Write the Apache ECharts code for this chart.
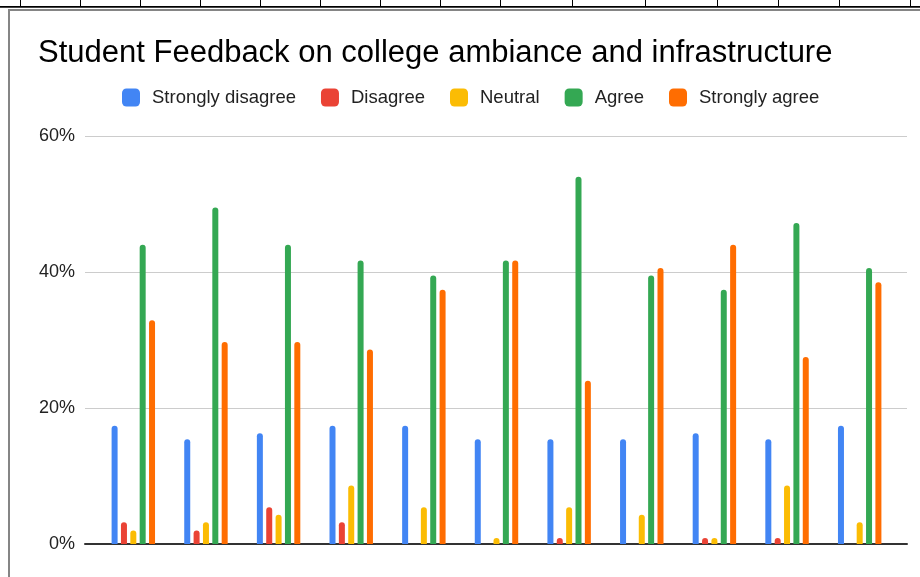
<!DOCTYPE html>
<html>
<head>
<meta charset="utf-8">
<script src="https://cdn.jsdelivr.net/npm/echarts@6/dist/echarts.min.js"></script>
<style>
  html, body { margin: 0; padding: 0; background: #fff; }
  #chart { width: 920px; height: 577px; }
  .sheetLine { position: absolute; left: 0; top: 6px; width: 920px; height: 1px; background: #000; border-bottom: 1px solid #444; }
  .colTick { position: absolute; top: 0; width: 1px; height: 6px; background: #000; }
  .frame { position: absolute; left: 8px; top: 9px; width: 912px; height: 568px; border-left: 2px solid #858585; border-top: 2px solid #858585; pointer-events: none; }
</style>
</head>
<body>
<div id="chart"></div>
<div class="sheetLine"></div>
<div class="frame"></div>
<script>
// spreadsheet column borders above the chart
var colBorders = [20, 80, 140, 200, 260, 320, 380, 440, 500, 572, 645, 717, 778, 839, 910];
colBorders.forEach(function (x) {
  var d = document.createElement('div');
  d.className = 'colTick';
  d.style.left = x + 'px';
  document.body.appendChild(d);
});

// data (percent of responses), x labels are not visible in the source
var categories = ['1', '2', '3', '4', '5', '6', '7', '8', '9', '10', '11'];
var stronglyDisagree = [17.4, 15.4, 16.3, 17.4, 17.4, 15.4, 15.4, 15.4, 16.3, 15.4, 17.4];
var disagree         = [3.2, 2.0, 5.4, 3.2, 0, 0, 0.9, 0, 0.9, 0.9, 0];
var neutral          = [2.0, 3.2, 4.3, 8.6, 5.4, 0.9, 5.4, 4.3, 0.9, 8.6, 3.2];
var agree            = [44.0, 49.5, 44.0, 41.7, 39.5, 41.7, 54.0, 39.5, 37.4, 47.2, 40.6];
var stronglyAgree    = [32.9, 29.7, 29.7, 28.6, 37.4, 41.7, 24.0, 40.6, 44.0, 27.5, 38.5];
var yTicks = [0, 20, 40, 60];

var font = 'Liberation Sans, Arial, sans-serif';
var colors = ['#4285F4', '#EA4335', '#FBBC04', '#34A853', '#FF6D01'];

function makeSeries(name, data) {
  return {
    name: name,
    type: 'bar',
    xAxisIndex: 1,
    yAxisIndex: 1,
    barWidth: 6,
    barGap: '56%',
    itemStyle: { borderRadius: [3, 3, 0, 0] },
    data: data
  };
}

var myChart = echarts.init(document.getElementById('chart'));
var option = {
  animation: false,
  color: colors,
  title: {
    text: 'Student Feedback on college ambiance and infrastructure',
    left: 38,
    top: 38,
    padding: 0,
    textStyle: { fontFamily: font, fontSize: 31, fontWeight: 'normal', color: '#000' }
  },
  legend: {
    left: 122,
    top: 88,
    padding: 0,
    itemWidth: 18,
    itemHeight: 18,
    itemGap: 25,
    icon: 'roundRect',
    textStyle: { fontFamily: font, fontSize: 18.5, color: '#222', padding: [0, 0, 0, 7] },
    data: ['Strongly disagree', 'Disagree', 'Neutral', 'Agree', 'Strongly agree']
  },
  grid: [
    { left: 85, right: 13, top: 136, bottom: 33 },
    { left: 97, right: 24, top: 136, bottom: 33 }
  ],
  xAxis: [
    {
      gridIndex: 0,
      type: 'category',
      data: [''],
      axisLine: { lineStyle: { color: '#333', width: 2 } },
      axisTick: { show: false },
      axisLabel: { show: false }
    },
    {
      gridIndex: 1,
      type: 'category',
      data: categories,
      axisLine: { show: false },
      axisTick: { show: false },
      axisLabel: { show: false }
    }
  ],
  yAxis: [
    {
      gridIndex: 0,
      type: 'value',
      min: yTicks[0],
      max: yTicks[yTicks.length - 1],
      interval: 20,
      axisLine: { show: false },
      axisTick: { show: false },
      axisLabel: { formatter: '{value}%', margin: 10, fontFamily: font, fontSize: 18, color: '#222' },
      splitLine: { lineStyle: { color: '#cccccc', width: 1 } }
    },
    {
      gridIndex: 1,
      type: 'value',
      min: yTicks[0],
      max: yTicks[yTicks.length - 1],
      interval: 20,
      axisLine: { show: false },
      axisTick: { show: false },
      axisLabel: { show: false },
      splitLine: { show: false }
    }
  ],
  series: [
    makeSeries('Strongly disagree', stronglyDisagree),
    makeSeries('Disagree', disagree),
    makeSeries('Neutral', neutral),
    makeSeries('Agree', agree),
    makeSeries('Strongly agree', stronglyAgree)
  ]
};
myChart.setOption(option);
</script>
</body>
</html>
